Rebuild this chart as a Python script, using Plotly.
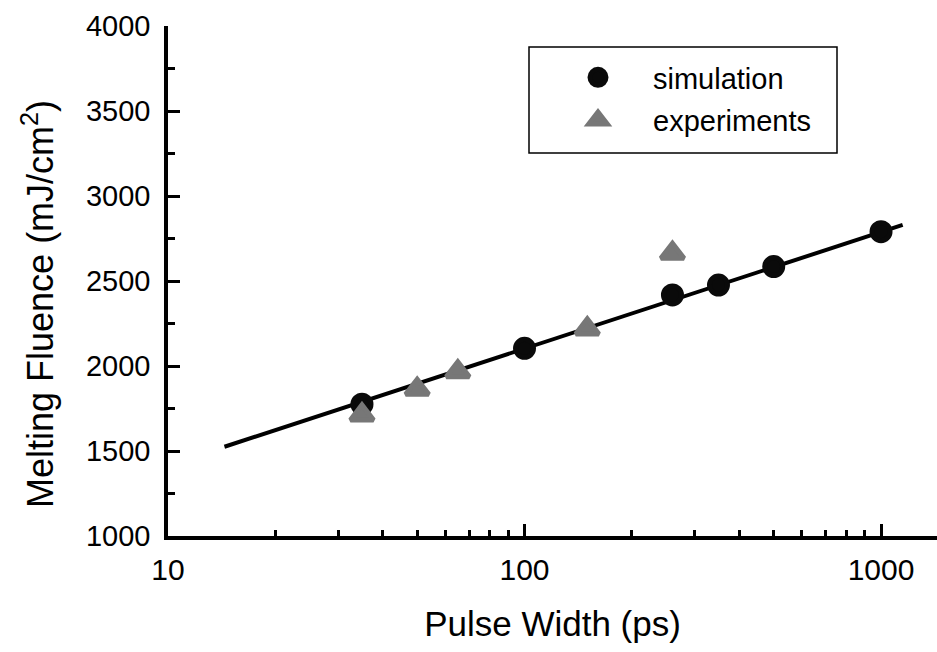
import plotly.graph_objects as go

# Data
sim_x = [35, 100, 260, 350, 500, 1000]
sim_y = [1775, 2104, 2418, 2476, 2585, 2790]
exp_x = [35, 50, 65, 150, 260]
exp_y = [1712, 1863, 1966, 2218, 2663]
fit_x = [14.4, 1150]
fit_y = [1525, 2830]

x_ticks = [10, 100, 1000]
x_minor = [20, 30, 40, 50, 60, 70, 80, 90, 200, 300, 400, 500, 600, 700, 800, 900]
y_ticks = [1000, 1500, 2000, 2500, 3000, 3500, 4000]

FONT = "Liberation Sans, Arial, sans-serif"

# plot area in pixels: x 168..937, y 26..536
L, R, T, B = 168, 0, 26, 116
PW, PH = 937 - L - R, 652 - T - B

fig = go.Figure()
fig.add_trace(go.Scatter(x=fit_x, y=fit_y, mode="lines",
                         line=dict(color="black", width=4), showlegend=False))
fig.add_trace(go.Scatter(x=sim_x, y=sim_y, mode="markers", name="simulation",
                         legendgroup="a",
                         marker=dict(symbol="circle", size=18, color="#0a0a0a",
                                     line=dict(color="#0a0a0a", width=5))))
fig.add_trace(go.Scatter(x=exp_x, y=exp_y, mode="markers", name="experiments",
                         legendgroup="b",
                         marker=dict(symbol="triangle-up", size=20, color="#777777",
                                     line=dict(color="#777777", width=5))))

fig.update_layout(
    width=937, height=652,
    margin=dict(l=L, r=R, t=T, b=B),
    paper_bgcolor="white", plot_bgcolor="white",
    font=dict(family=FONT, size=29, color="black"),
    showlegend=True,
    legend=dict(x=(543 - L) / PW, y=(536 - 52) / PH, xanchor="left", yanchor="top",
                bgcolor="rgba(0,0,0,0)", borderwidth=0,
                font=dict(size=29), itemwidth=100, tracegroupgap=2),
    shapes=[dict(type="rect", xref="paper", yref="paper",
                 x0=(529 - L) / PW, x1=(837 - L) / PW,
                 y0=(536 - 153) / PH, y1=(536 - 47) / PH,
                 line=dict(color="black", width=1.5))],
    annotations=[dict(text="Melting Fluence (mJ/cm<sup>2</sup>)", textangle=-90,
                      xref="paper", yref="paper",
                      x=(38 - L) / PW, y=(536 - 304) / PH,
                      xanchor="center", yanchor="middle", showarrow=False,
                      font=dict(size=36))],
)

fig.update_xaxes(
    type="log", range=[1, 3.157],
    tickvals=x_ticks, ticktext=[str(v) for v in x_ticks],
    showgrid=False, zeroline=False,
    showline=True, linecolor="black", linewidth=3.5,
    ticks="inside", ticklen=12, tickwidth=3, tickcolor="black",
    minor=dict(tickvals=x_minor, ticks="inside", ticklen=6, tickwidth=2.5,
               tickcolor="black", showgrid=False),
    title=dict(text="Pulse Width (ps)", font=dict(size=35), standoff=28),
    tickfont=dict(size=30),
    ticklabelstandoff=4,
)
fig.update_yaxes(
    range=[1000, 4000],
    tickvals=y_ticks,
    showgrid=False, zeroline=False,
    showline=True, linecolor="black", linewidth=3.5,
    ticks="inside", ticklen=12, tickwidth=3, tickcolor="black",
    minor=dict(dtick=250, ticks="inside", ticklen=7, tickwidth=2.5,
               tickcolor="black", showgrid=False),
    tickfont=dict(size=29),
    ticklabelstandoff=8,
)

fig.write_html("out.html")
